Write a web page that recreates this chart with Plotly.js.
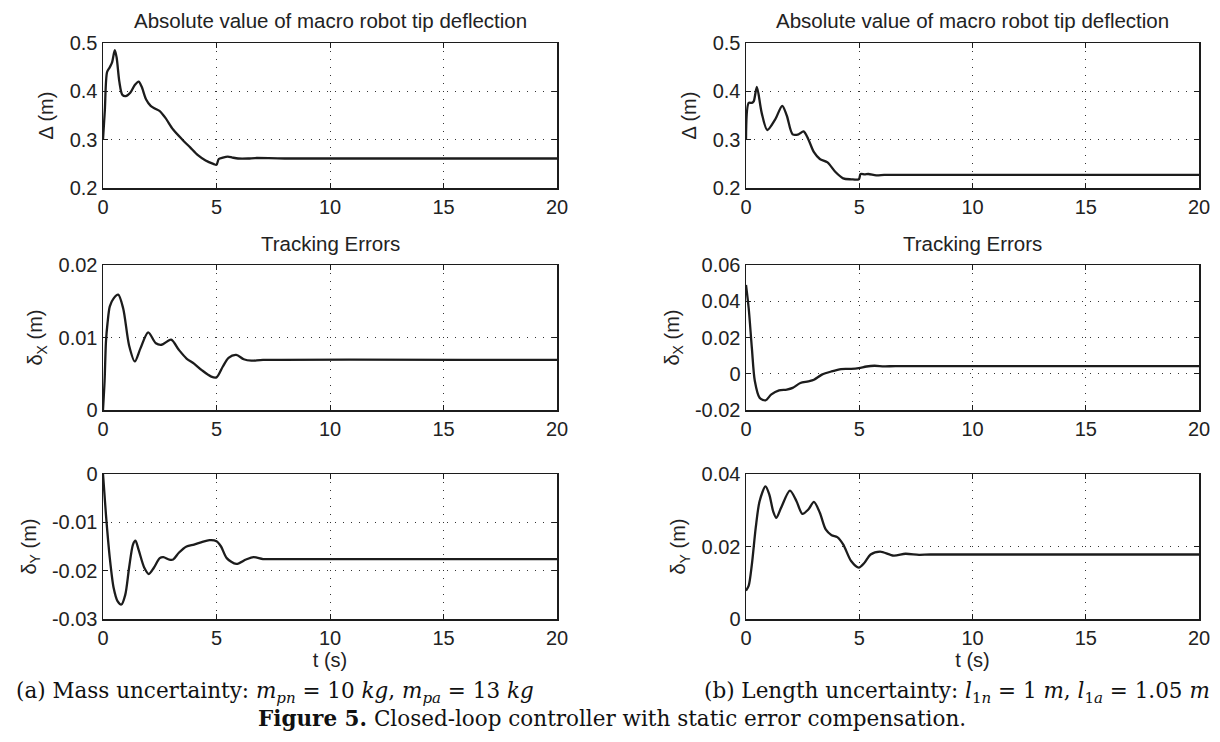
<!DOCTYPE html>
<html><head><meta charset="utf-8">
<script src="https://cdn.plot.ly/plotly-3.0.1.min.js"></script>
<style>html,body{margin:0;padding:0;background:#fff}#chart{width:1220px;height:742px}</style>
</head><body><div id="chart"></div>
<script>
// ---- data ----
const tDefMass = [0, 0.08, 0.18, 0.3, 0.4, 0.52, 0.6, 0.72, 0.85, 1.0, 1.2, 1.4, 1.57, 1.7, 1.9, 2.1, 2.3, 2.5, 2.75, 3.09, 3.5, 3.84, 4.18, 4.52, 4.86, 5.0, 5.1, 5.28, 5.5, 5.7, 5.95, 6.4, 6.7, 8, 20];
const defMass  = [0.30, 0.36, 0.44, 0.45, 0.46, 0.485, 0.47, 0.42, 0.393, 0.39, 0.397, 0.413, 0.42, 0.41, 0.383, 0.37, 0.364, 0.359, 0.345, 0.321, 0.30, 0.284, 0.268, 0.257, 0.25, 0.248, 0.26, 0.263, 0.265, 0.263, 0.261, 0.261, 0.262, 0.261, 0.261];

const tDxMass = [0, 0.07, 0.13, 0.2, 0.3, 0.47, 0.67, 0.89, 1.15, 1.4, 1.65, 1.99, 2.33, 2.58, 3.0, 3.34, 3.68, 4.01, 4.35, 4.77, 5.0, 5.28, 5.53, 5.87, 6.2, 6.54, 7.05, 20];
const dxMass  = [0, 0.004, 0.0094, 0.012, 0.0143, 0.0154, 0.0159, 0.014, 0.0089, 0.0067, 0.0085, 0.0107, 0.0092, 0.009, 0.0097, 0.0083, 0.0071, 0.0064, 0.0055, 0.0046, 0.0045, 0.006, 0.0072, 0.0076, 0.007, 0.0068, 0.0069, 0.0069];

const tDyMass = [0, 0.13, 0.3, 0.47, 0.64, 0.81, 0.98, 1.15, 1.32, 1.43, 1.57, 1.82, 2.02, 2.24, 2.5, 2.66, 2.92, 3.09, 3.34, 3.68, 4.01, 4.35, 4.69, 5.0, 5.2, 5.45, 5.87, 6.3, 6.63, 7.05, 7.55, 20];
const dyMass  = [0, -0.0084, -0.0174, -0.0236, -0.0263, -0.027, -0.025, -0.0194, -0.0146, -0.0138, -0.0157, -0.0194, -0.0207, -0.0194, -0.0174, -0.0172, -0.0177, -0.0177, -0.0163, -0.015, -0.0146, -0.0141, -0.0137, -0.0139, -0.015, -0.0174, -0.0186, -0.0177, -0.0172, -0.0176, -0.0176, -0.0176];

const tDefLen = [0, 0.12, 0.26, 0.34, 0.48, 0.69, 0.94, 1.29, 1.6, 1.8, 2.06, 2.32, 2.54, 2.75, 3.0, 3.26, 3.6, 3.95, 4.29, 4.64, 4.98, 5.06, 5.24, 5.4, 5.75, 6.1, 6.6, 20];
const defLen  = [0.30, 0.376, 0.376, 0.379, 0.409, 0.356, 0.32, 0.342, 0.37, 0.35, 0.311, 0.311, 0.317, 0.301, 0.274, 0.26, 0.253, 0.233, 0.22, 0.218, 0.218, 0.229, 0.228, 0.229, 0.226, 0.227, 0.227, 0.227];

const tDxLen = [0, 0.12, 0.26, 0.39, 0.6, 0.86, 1.12, 1.46, 1.8, 2.06, 2.4, 2.75, 3.0, 3.35, 3.78, 4.2, 4.64, 4.98, 5.32, 5.67, 6.1, 6.6, 20];
const dxLen  = [0.049, 0.036, 0.014, -0.004, -0.0132, -0.0147, -0.0114, -0.0092, -0.0087, -0.0078, -0.0051, -0.0042, -0.0033, -0.0005, 0.0013, 0.0026, 0.0027, 0.0031, 0.004, 0.0044, 0.0041, 0.0042, 0.0042];

const tDyLen = [0, 0.12, 0.26, 0.43, 0.6, 0.86, 1.03, 1.2, 1.34, 1.55, 1.94, 2.23, 2.49, 2.75, 3.0, 3.26, 3.52, 3.78, 4.03, 4.29, 4.64, 4.98, 5.24, 5.5, 5.92, 6.52, 7.04, 7.64, 8.15, 20];
const dyLen  = [0.0078, 0.0092, 0.0151, 0.0252, 0.0325, 0.0366, 0.0343, 0.0297, 0.0279, 0.0307, 0.0354, 0.0325, 0.029, 0.0302, 0.0323, 0.0293, 0.0247, 0.0231, 0.0226, 0.0206, 0.016, 0.0142, 0.0156, 0.0178, 0.0186, 0.0175, 0.018, 0.0177, 0.0178, 0.0178];

// tick labels
const xTicks = [0, 5, 10, 15, 20];
const xTickText = ['0', '5', '10', '15', '20'];
const yDefTicks = [0.2, 0.3, 0.4, 0.5];
const yDefText = ['0.2', '0.3', '0.4', '0.5'];
const yDxMassTicks = [0, 0.01, 0.02];
const yDxMassText = ['0', '0.01', '0.02'];
const yDyMassTicks = [-0.03, -0.02, -0.01, 0];
const yDyMassText = ['-0.03', '-0.02', '-0.01', '0'];
const yDxLenTicks = [-0.02, 0, 0.02, 0.04, 0.06];
const yDxLenText = ['-0.02', '0', '0.02', '0.04', '0.06'];
const yDyLenTicks = [0, 0.02, 0.04];
const yDyLenText = ['0', '0.02', '0.04'];

const panelTitles = ['Absolute value of macro robot tip deflection', 'Tracking Errors'];
const yTitles = ['\u0394 (m)', '\u03b4<sub>X</sub> (m)', '\u03b4<sub>Y</sub> (m)'];
const xTitle = 't (s)';

// ---- layout helpers ----
const W = 1220, H = 742;
const colX = [[103, 557], [746, 1199]];
const rowY = [[43, 188], [265, 410], [474, 619]];
const px2x = p => p / W;
const px2y = p => 1 - p / H;

const lineStyle = {color: '#1c1c1c', width: 2.3, shape: 'spline', smoothing: 0.8};
const series = [
  [tDefMass, defMass], [tDefLen, defLen],
  [tDxMass, dxMass], [tDxLen, dxLen],
  [tDyMass, dyMass], [tDyLen, dyLen]
];
const yRanges = [[0.2, 0.5], [0.2, 0.5], [0, 0.02], [-0.02, 0.06], [-0.03, 0], [0, 0.04]];
const yTickSets = [[yDefTicks, yDefText], [yDefTicks, yDefText], [yDxMassTicks, yDxMassText], [yDxLenTicks, yDxLenText], [yDyMassTicks, yDyMassText], [yDyLenTicks, yDyLenText]];

const font = {family: 'Liberation Sans, Arial, sans-serif', color: '#222', size: 20};
const traces = [];
const layout = {
  width: W, height: H, margin: {l: 0, r: 0, t: 0, b: 0},
  paper_bgcolor: '#fff', plot_bgcolor: '#fff', showlegend: false, font: font,
  annotations: [], shapes: []
};

series.forEach((s, i) => {
  const row = Math.floor(i / 2), col = i % 2;
  const n = i + 1;
  const sfx = n === 1 ? '' : String(n);
  traces.push({x: s[0], y: s[1], type: 'scatter', mode: 'lines', line: lineStyle,
    xaxis: 'x' + sfx, yaxis: 'y' + sfx, hoverinfo: 'skip'});
  const common = {
    showline: true, mirror: 'allticks', linecolor: '#1c1c1c', linewidth: 1.5,
    ticks: 'inside', ticklen: 5, tickcolor: '#1c1c1c', tickwidth: 1,
    showgrid: true, gridcolor: '#333', gridwidth: 1, griddash: '1px,7px',
    zeroline: false, tickfont: {size: 20, color: '#222', family: font.family}, fixedrange: true
  };
  layout['xaxis' + sfx] = Object.assign({}, common, {
    domain: [px2x(colX[col][0]), px2x(colX[col][1])], range: [0, 20],
    tickmode: 'array', tickvals: xTicks, ticktext: xTickText,
    anchor: 'y' + sfx
  });
  if (row === 2) layout['xaxis' + sfx].title = {text: xTitle, font: {size: 20}, standoff: 5};
  layout['yaxis' + sfx] = Object.assign({}, common, {
    domain: [px2y(rowY[row][1]), px2y(rowY[row][0])], range: yRanges[i],
    tickmode: 'array', tickvals: yTickSets[i][0], ticktext: yTickSets[i][1],
    anchor: 'x' + sfx,
    title: {text: yTitles[row], font: {size: 20}, standoff: 10}
  });
  if (row < 2) {
    layout.annotations.push({text: panelTitles[row], xref: 'paper', yref: 'paper',
      x: px2x((colX[col][0] + colX[col][1]) / 2), y: px2y(rowY[row][0] - 22),
      xanchor: 'center', yanchor: 'middle', showarrow: false, font: {size: 20.5}});
  }
});

const capFont = {family: 'DejaVu Serif, Liberation Serif, serif', size: 21.5, color: '#111'};
layout.annotations.push(
  {text: '(a) Mass uncertainty: <i>m</i><sub><i>pn</i></sub> = 10 <i>kg</i>, <i>m</i><sub><i>pa</i></sub> = 13 <i>kg</i>',
   xref: 'paper', yref: 'paper', x: px2x(14), y: px2y(692), xanchor: 'left', yanchor: 'middle', showarrow: false, font: capFont},
  {text: '(b) Length uncertainty: <i>l</i><sub>1<i>n</i></sub> = 1 <i>m</i>, <i>l</i><sub>1<i>a</i></sub> = 1.05 <i>m</i>',
   xref: 'paper', yref: 'paper', x: px2x(1212), y: px2y(692), xanchor: 'right', yanchor: 'middle', showarrow: false, font: capFont},
  {text: '<b>Figure 5.</b> Closed-loop controller with static error compensation.',
   xref: 'paper', yref: 'paper', x: px2x(612), y: px2y(718), xanchor: 'center', yanchor: 'middle', showarrow: false, font: capFont}
);

Plotly.newPlot('chart', traces, layout, {staticPlot: true, displayModeBar: false});
</script></body></html>
